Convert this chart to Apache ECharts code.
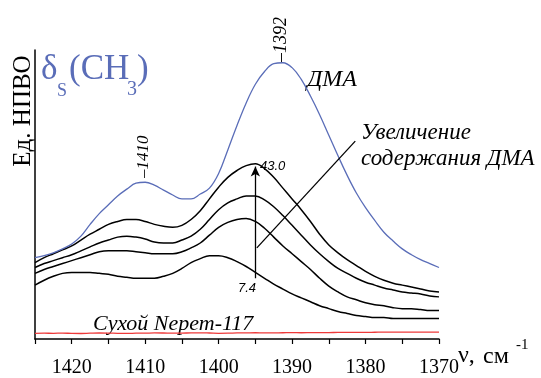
<!DOCTYPE html>
<html><head><meta charset="utf-8">
<script src="https://cdn.jsdelivr.net/npm/echarts@6/dist/echarts.min.js"></script>
<style>html,body{margin:0;padding:0;background:#fff}#c{width:541px;height:378px}</style>
</head><body><div id="c"></div>
<script>
// Wavenumbers (cm-1), 1425 down to 1370 in steps of 1.25
const wavenumbers = [1425,1423.75,1422.5,1421.25,1420,1418.75,1417.5,1416.25,1415,1413.75,1412.5,1411.25,1410,1408.75,1407.5,1406.25,1405,1403.75,1402.5,1401.25,1400,1398.75,1397.5,1396.25,1395,1393.75,1392.5,1391.25,1390,1388.75,1387.5,1386.25,1385,1383.75,1382.5,1381.25,1380,1378.75,1377.5,1376.25,1375,1373.75,1372.5,1371.25,1370];
// Absorbance, arbitrary units
const dmaPure = [83,85,88,92,97,105,117,128,137,146,153,159,160,157,152,147,143,143,148,154,169,193,218,241,260,273,281,282,277,265,248,229,208,187,167,149,134,121,109,100,92,86,81,77,73];
const sample43 = [78,83,87,91,95,101,107,112,117,120,122,122,120,117,115,114,116,122,131,143,155,165,172,177,179,174,165,154,143,132,120,107,96,88,81,75,69,64,60,57,55,53,51,49,48];
const sampleB = [73,77,80,83,86,90,94,98,101,104,105,104,102,99,98,98,101,105,112,122,132,139,143,146,146,142,135,126,116,106,96,87,79,72,67,62,58,55,52,50,48,47,46,44,43];
const sampleC = [67,71,74,77,80,83,86,89,90,90,90,89,88,87,87,87,89,93,98,106,114,119,122,123,120,113,104,95,87,79,71,62,54,48,43,40,37,35,34,32,31,31,30,29,29];
const sample74 = [55,60,64,67,68,68,68,67,66,64,63,62,62,62,64,67,72,78,82,85,85,83,79,74,68,62,56,51,46,42,38,34,31,28,26,24,23,22,22,21,21,21,21,21,21];
const dryWheat = [5.7,5.9,5.8,6.0,5.7,5.6,5.9,6.1,6.0,5.8,5.7,5.9,6.0,6.2,6.1,5.9,6.0,6.2,6.3,6.1,5.8,5.9,6.2,6.3,6.4,6.2,6.3,6.4,6.5,6.4,6.5,6.6,6.6,6.7,6.7,6.8,6.8,6.9,7.0,7.0,7.0,7.1,7.0,7.1,7.1];
const xTicks = [1420,1410,1400,1390,1380,1370];

const pairs = arr => wavenumbers.map((w,i)=>[w,arr[i]]);
const serif = 'Liberation Serif';
const SM = 0.4;
const chart = echarts.init(document.getElementById('c'), null, {renderer:'canvas'});
const blk = (data, extra) => Object.assign({type:'line', data:pairs(data), smooth:SM, showSymbol:false, silent:true,
  lineStyle:{color:'#000', width:1.5}}, extra||{});
function txt(text, x, y, size, opts){
  opts = opts||{};
  return {type:'text', x:x, y:y, rotation:opts.rot||0, silent:true,
    style:{text:text, fill:opts.color||'#000', font:(opts.italic?'italic ':'')+size+'px "'+(opts.family||serif)+'"',
      textAlign:opts.align||'left', align:opts.align||'left', textVerticalAlign:'middle', verticalAlign:'middle'}};
}
const blue = '#5a6db8';
chart.setOption({
  animation:false,
  grid:{left:35, right:102, top:50, bottom:33, containLabel:false},
  xAxis:{type:'value', min:1370, max:1425, inverse:true, interval:5,
    axisLine:{lineStyle:{color:'#000', width:1.5}},
    axisTick:{length:5, lineStyle:{color:'#000', width:1.2}},
    axisLabel:{formatter:v => xTicks.indexOf(v)>=0 ? String(v) : '', color:'#000', fontFamily:serif, fontSize:20, margin:19},
    splitLine:{show:false}},
  yAxis:{type:'value', min:0, max:295,
    axisLine:{show:true, lineStyle:{color:'#000', width:1.5}},
    axisTick:{show:false}, axisLabel:{show:false}, splitLine:{show:false}},
  series:[
    {type:'line', data:pairs(dryWheat), smooth:SM, showSymbol:false, silent:true, lineStyle:{color:'#ee3a3a', width:1.3}},
    blk(sample74),
    blk(sampleC),
    blk(sampleB),
    blk(sample43, {markLine:{silent:true, symbol:['none','none'], label:{show:false},
      lineStyle:{color:'#000', width:1.3, type:'solid'},
      data:[
        [{coord:[1395,62], symbol:'none'},{coord:[1395,176], symbol:'arrow', symbolSize:[7,10]}],
        [{coord:[1381.4,202]},{coord:[1394.8,93]}]
      ]}}),
    {type:'line', data:pairs(dmaPure), smooth:SM, showSymbol:false, silent:true, lineStyle:{color:blue, width:1.3}}
  ],
  graphic:[
    txt('Ед. НПВО', 23, 111, 25, {rot:Math.PI/2, align:'center'}),
    txt('δ', 41, 70, 35, {color:blue}),
    txt('S', 57, 91, 18, {color:blue}),
    txt('(CH', 69, 70, 35, {color:blue}),
    txt('3', 127, 90, 20, {color:blue}),
    txt(')', 137, 70, 35, {color:blue}),
    txt('–1410', 143.5, 178, 17, {rot:Math.PI/2, italic:true}),
    txt('–1392', 281.5, 62, 18, {rot:Math.PI/2, italic:true}),
    txt('ДМА', 307, 80, 24, {italic:true}),
    txt('Увеличение', 361, 133, 23, {italic:true}),
    txt('содержания ДМА', 361, 159, 23, {italic:true}),
    txt('43.0', 260, 166, 13, {italic:true, family:'Liberation Sans'}),
    txt('7.4', 238, 288, 13, {italic:true, family:'Liberation Sans'}),
    txt('Сухой Nерет-117', 93, 324, 22, {italic:true}),
    txt('ν,', 458, 356, 24, {}),
    txt('см', 483, 357, 24, {}),
    txt('-1', 516, 345, 15, {})
  ]
});
</script></body></html>
